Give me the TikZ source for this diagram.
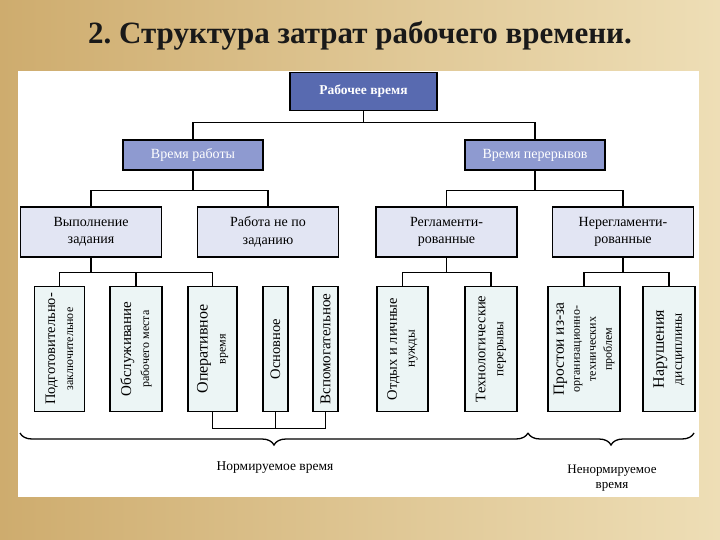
\documentclass[tikz,border=0pt]{standalone}
\usepackage{fontspec}
\setmainfont{Liberation Serif}
\usetikzlibrary{decorations.pathreplacing}
\definecolor{bgsand}{RGB}{238,222,182}
\definecolor{bgdark}{RGB}{206,172,110}
\definecolor{rootblue}{RGB}{88,106,176}
\definecolor{midblue}{RGB}{142,154,208}
\definecolor{lilac}{RGB}{226,229,243}
\definecolor{mint}{RGB}{236,245,245}

\begin{document}
\begin{tikzpicture}[x=1pt,y=-1pt]
\tikzstyle{every node}+=[inner sep=0pt]
\tikzstyle{rootbox}=[draw=black,line width=1.4pt,fill=rootblue,text=white,font=\fontsize{13.5}{15}\selectfont\bfseries,minimum width=147pt,minimum height=38pt]
\tikzstyle{groupbox}=[draw=black,line width=1.2pt,fill=midblue,text=white,font=\fontsize{14}{15}\selectfont,minimum width=140pt,minimum height=30pt]
\tikzstyle{kindbox}=[draw=black,line width=1.2pt,fill=lilac,font=\fontsize{14}{17.5}\selectfont,align=center,minimum width=141pt,minimum height=50pt]
\tikzstyle{leafbox}=[draw=black,line width=1.2pt,fill=mint,rotate=90,align=center,font=\fontsize{12}{18}\selectfont,minimum width=125pt]
\tikzstyle{link}=[black,line width=1.2pt]
\tikzstyle{brace}=[black,line width=1.3pt,decorate,decoration={brace,mirror,amplitude=12pt}]
\useasboundingbox (0,0) rectangle (720,540);
\shade [left color=bgdark,right color=bgsand] (0,0) rectangle (720,540);
\fill [white] (18,71) rectangle (699,497);
\node [font=\fontsize{31}{34}\selectfont\bfseries,text=black!90] (title) at (360,36) {2.\ Структура затрат рабочего времени.};
\node [rootbox] (root) at (363.5,91.5) {Рабочее время};
\node [groupbox] (work) at (193,155) {Время работы};
\node [groupbox] (pause) at (535,155) {Время перерывов};
\node [kindbox] (task) at (91,232) {Выполнение\\задания};
\node [kindbox] (other) at (268,232) {Работа не по\\заданию};
\node [kindbox] (reg) at (446.5,232) {Регламенти-\\рованные};
\node [kindbox] (unreg) at (623,232) {Нерегламенти-\\рованные};
\node [leafbox,minimum height=50pt] (prep) at (59.5,349) {{\fontsize{14.5}{15}\selectfont Подготовительно-}\\заключительное};
\node [leafbox,minimum height=52pt] (serv) at (136,349) {{\fontsize{15}{15}\selectfont Обслуживание}\\рабочего места};
\node [leafbox,minimum height=49pt] (oper) at (212.5,349) {{\fontsize{16}{15}\selectfont Оперативное}\\время};
\node [leafbox,minimum height=25pt] (main) at (275.5,349) {{\fontsize{14.5}{15}\selectfont Основное}};
\node [leafbox,minimum height=25pt] (aux) at (325.5,349) {{\fontsize{15}{15}\selectfont Вспомогательное}};
\node [leafbox,minimum height=51pt] (rest) at (402.5,349) {{\fontsize{14.5}{15}\selectfont Отдых и личные}\\{\fontsize{13}{15}\selectfont нужды}};
\node [leafbox,minimum height=52pt] (tech) at (491,349) {{\fontsize{14.5}{15}\selectfont Технологические}\\{\fontsize{13}{15}\selectfont перерывы}};
\node [leafbox,minimum height=72pt,font=\fontsize{12}{16}\selectfont] (idle) at (584,349) {{\fontsize{15.5}{15}\selectfont Простои из-за}\\организационно-\\технических\\проблем};
\node [leafbox,minimum height=52pt] (viol) at (669,349) {{\fontsize{16}{15}\selectfont Нарушения}\\{\fontsize{13.5}{15}\selectfont дисциплины}};
\draw [link] (root.south) -- ++(0,11.5) -| (work.north);
\draw [link] (root.south) -- ++(0,11.5) -| (pause.north);
\draw [link] (work.south) -- ++(0,20) -| (task.north);
\draw [link] (work.south) -- ++(0,20) -| (other.north);
\draw [link] (pause.south) -- ++(0,20) -| (reg.north);
\draw [link] (pause.south) -- ++(0,20) -| (unreg.north);
\draw [link] (task.south) -- ++(0,15) -| (prep.east);
\draw [link] (task.south) -- ++(0,15) -| (serv.east);
\draw [link] (task.south) -- ++(0,15) -| (oper.east);
\draw [link] (reg.south) -- ++(0,15) -| (rest.east);
\draw [link] (reg.south) -- ++(0,15) -| (tech.east);
\draw [link] (unreg.south) -- ++(0,15) -| (idle.east);
\draw [link] (unreg.south) -- ++(0,15) -| (viol.east);
\draw [link] (oper.west) -- ++(0,16) -| (aux.west);
\draw [link] (main.west) -- ++(0,16);
\coordinate (nl) at (20,433);
\coordinate (nr) at (528,433);
\coordinate (ur) at (694,433);
\draw [brace] (nl) -- (nr);
\draw [brace] (nr) -- (ur);
\node [font=\fontsize{13.5}{15}\selectfont] (normed) at (275,468) {Нормируемое время};
\node [font=\fontsize{13}{15}\selectfont,align=center] (unnormed) at (612,478) {Ненормируемое\\время};
\end{tikzpicture}
\end{document}
